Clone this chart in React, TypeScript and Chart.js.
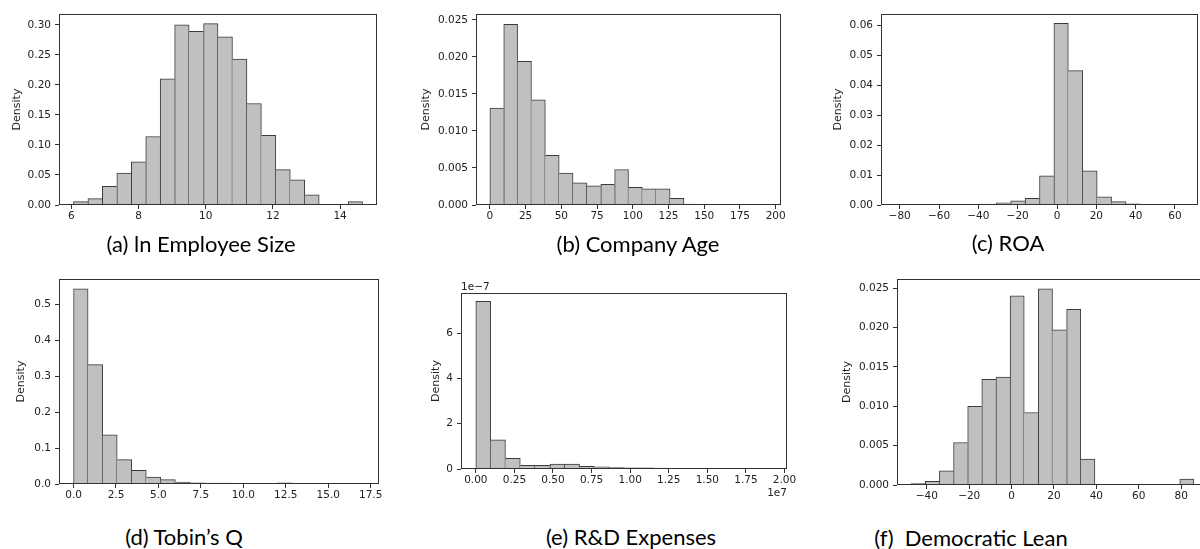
import React, { useEffect, useRef } from 'react';
import { Chart, registerables } from 'chart.js';

Chart.register(...registerables);

const BAR_FILL = '#c0c0c0';
const BAR_EDGE = '#3a3a3a';
const FRAME = '#333333';
const TEXT = '#222222';
const TICK_FONT = { family: 'DejaVu Sans', size: 10.5 };

// (a) ln Employee Size
const A_EDGES = [6.06, 6.491, 6.921, 7.352, 7.782, 8.213, 8.643, 9.074, 9.504, 9.935, 10.365, 10.796, 11.226, 11.657, 12.087, 12.518, 12.948, 13.379, 13.809, 14.24, 14.67];
const A_DENSITY = [0.0055, 0.0105, 0.031, 0.053, 0.072, 0.114, 0.21, 0.3, 0.289, 0.302, 0.28, 0.243, 0.169, 0.116, 0.059, 0.042, 0.017, 0, 0, 0.0055];
const A_XTICKS = [6, 8, 10, 12, 14];
const A_XLABELS = ['6', '8', '10', '12', '14'];
const A_YTICKS = [0, 0.05, 0.1, 0.15, 0.2, 0.25, 0.3];
const A_YLABELS = ['0.00', '0.05', '0.10', '0.15', '0.20', '0.25', '0.30'];

// (b) Company Age
const B_EDGES = [0, 9.7, 19.4, 29.1, 38.8, 48.5, 58.2, 67.9, 77.6, 87.3, 97, 106.7, 116.4, 126.1, 135.8, 145.5, 155.2, 164.9, 174.6, 184.3, 194];
const B_DENSITY = [0.0131, 0.0244, 0.0194, 0.0142, 0.0067, 0.0043, 0.003, 0.0026, 0.0028, 0.0048, 0.0024, 0.0022, 0.0022, 0.0009, 0.00013, 0.00003, 0.00001, 0, 0, 0.00001];
const B_XTICKS = [0, 25, 50, 75, 100, 125, 150, 175, 200];
const B_XLABELS = ['0', '25', '50', '75', '100', '125', '150', '175', '200'];
const B_YTICKS = [0, 0.005, 0.01, 0.015, 0.02, 0.025];
const B_YLABELS = ['0.000', '0.005', '0.010', '0.015', '0.020', '0.025'];

// (c) ROA
const C_EDGES = [-82.2, -74.87, -67.54, -60.21, -52.88, -45.55, -38.22, -30.89, -23.56, -16.23, -8.9, -1.57, 5.76, 13.09, 20.42, 27.75, 35.08, 42.41, 49.74, 57.07, 64.4];
const C_DENSITY = [0.00002, 0, 0, 0, 0.00001, 0.0002, 0.0003, 0.0007, 0.0014, 0.0022, 0.0097, 0.0606, 0.0448, 0.0114, 0.0027, 0.0011, 0.0004, 0.00005, 0.00002, 0.00002];
const C_XTICKS = [-80, -60, -40, -20, 0, 20, 40, 60];
const C_XLABELS = ['\u221280', '\u221260', '\u221240', '\u221220', '0', '20', '40', '60'];
const C_YTICKS = [0, 0.01, 0.02, 0.03, 0.04, 0.05, 0.06];
const C_YLABELS = ['0.00', '0.01', '0.02', '0.03', '0.04', '0.05', '0.06'];

// (d) Tobin's Q
const D_EDGES = [0, 0.857, 1.713, 2.57, 3.426, 4.283, 5.139, 5.996, 6.852, 7.709, 8.565, 9.422, 10.278, 11.135, 11.991, 12.848, 13.704, 14.561, 15.417, 16.274, 17.13];
const D_DENSITY = [0.544, 0.333, 0.137, 0.068, 0.038, 0.019, 0.012, 0.0056, 0.003, 0.0028, 0.0025, 0.002, 0.0008, 0.0003, 0.003, 0, 0, 0, 0, 0.0003];
const D_XTICKS = [0, 2.5, 5, 7.5, 10, 12.5, 15, 17.5];
const D_XLABELS = ['0.0', '2.5', '5.0', '7.5', '10.0', '12.5', '15.0', '17.5'];
const D_YTICKS = [0, 0.1, 0.2, 0.3, 0.4, 0.5];
const D_YLABELS = ['0.0', '0.1', '0.2', '0.3', '0.4', '0.5'];

// (e) R&D Expenses
const E_EDGES = [0, 960000, 1920000, 2880000, 3840000, 4800000, 5760000, 6720000, 7680000, 8640000, 9600000, 10560000, 11520000, 12480000, 13440000, 14400000, 15360000, 16320000, 17280000, 18240000, 19200000];
const E_DENSITY = [7.4e-7, 1.29e-7, 0.47e-7, 0.16e-7, 0.16e-7, 0.22e-7, 0.22e-7, 0.12e-7, 0.1e-7, 0.06e-7, 0.05e-7, 0.05e-7, 0.04e-7, 0, 0, 0, 0, 0, 0, 0.005e-7];
const E_XTICKS = [0, 2500000, 5000000, 7500000, 10000000, 12500000, 15000000, 17500000, 20000000];
const E_XLABELS = ['0.00', '0.25', '0.50', '0.75', '1.00', '1.25', '1.50', '1.75', '2.00'];
const E_YTICKS = [0, 2e-7, 4e-7, 6e-7];
const E_YLABELS = ['0', '2', '4', '6'];

// (f) Democratic Lean
const F_EDGES = [-47.4, -40.73, -34.06, -27.39, -20.72, -14.05, -7.38, -0.71, 5.96, 12.63, 19.3, 25.97, 32.64, 39.31, 45.98, 52.65, 59.32, 65.99, 72.66, 79.33, 86];
const F_DENSITY = [0.00017, 0.00047, 0.0018, 0.0054, 0.01, 0.0134, 0.0137, 0.024, 0.0092, 0.0249, 0.0197, 0.0223, 0.0033, 0, 0, 0, 0, 0, 0, 0.00076];
const F_XTICKS = [-40, -20, 0, 20, 40, 60, 80];
const F_XLABELS = ['\u221240', '\u221220', '0', '20', '40', '60', '80'];
const F_YTICKS = [0, 0.005, 0.01, 0.015, 0.02, 0.025];
const F_YLABELS = ['0.000', '0.005', '0.010', '0.015', '0.020', '0.025'];

type Panel = {
  edges: number[];
  density: number[];
  xTicks: number[];
  xLabels: string[];
  yTicks: number[];
  yLabels: string[];
  xMin: number;
  xMax: number;
  yMax: number;
  box: [number, number, number, number];
  titleOffset: number;
  caption: string;
  captionAt: [number, number];
  yOffsetText?: string;
  xOffsetText?: string;
};

const PANELS: Panel[] = [
  { edges: A_EDGES, density: A_DENSITY, xTicks: A_XTICKS, xLabels: A_XLABELS, yTicks: A_YTICKS, yLabels: A_YLABELS,
    xMin: 5.63, xMax: 15.1, yMax: 0.318, box: [59, 14, 377, 205], titleOffset: 42,
    caption: '(a) ln Employee Size', captionAt: [201, 244] },
  { edges: B_EDGES, density: B_DENSITY, xTicks: B_XTICKS, xLabels: B_XLABELS, yTicks: B_YTICKS, yLabels: B_YLABELS,
    xMin: -9.7, xMax: 203.7, yMax: 0.0258, box: [476, 14, 781, 205], titleOffset: 50,
    caption: '(b) Company Age', captionAt: [638, 244] },
  { edges: C_EDGES, density: C_DENSITY, xTicks: C_XTICKS, xLabels: C_XLABELS, yTicks: C_YTICKS, yLabels: C_YLABELS,
    xMin: -89.5, xMax: 71.7, yMax: 0.0637, box: [881, 14, 1198, 205], titleOffset: 43,
    caption: '(c) ROA', captionAt: [1008, 243] },
  { edges: D_EDGES, density: D_DENSITY, xTicks: D_XTICKS, xLabels: D_XLABELS, yTicks: D_YTICKS, yLabels: D_YLABELS,
    xMin: -0.857, xMax: 17.99, yMax: 0.5715, box: [59, 279, 379, 484], titleOffset: 38,
    caption: '(d) Tobin\u2019s Q', captionAt: [184, 537] },
  { edges: E_EDGES, density: E_DENSITY, xTicks: E_XTICKS, xLabels: E_XLABELS, yTicks: E_YTICKS, yLabels: E_YLABELS,
    xMin: -960000, xMax: 20160000, yMax: 7.77e-7, box: [461, 293, 787, 469], titleOffset: 25,
    caption: '(e) R&D Expenses', captionAt: [631, 537], yOffsetText: '1e\u22127', xOffsetText: '1e7' },
  { edges: F_EDGES, density: F_DENSITY, xTicks: F_XTICKS, xLabels: F_XLABELS, yTicks: F_YTICKS, yLabels: F_YLABELS,
    xMin: -54.07, xMax: 92.67, yMax: 0.02615, box: [897, 279, 1208, 485], titleOffset: 50,
    caption: '(f)  Democratic Lean', captionAt: [971, 538] },
];

const framePlugin = {
  id: 'frame',
  afterDatasetsDraw(chart: any) {
    const { ctx, chartArea } = chart;
    const l = Math.round(chartArea.left) + 0.5;
    const t = Math.round(chartArea.top) + 0.5;
    const r = Math.round(chartArea.right) - 0.5;
    const b = Math.round(chartArea.bottom) - 0.5;
    ctx.save();
    ctx.strokeStyle = FRAME;
    ctx.lineWidth = 1;
    ctx.strokeRect(l, t, r - l, b - t);
    ctx.restore();
  },
};

function Histogram({ p }: { p: Panel }) {
  const ref = useRef<HTMLCanvasElement>(null);
  const [L, T, R, B] = p.box;
  const W = p.titleOffset + 6;
  const PT = 16;
  const PR = 24;
  const H = 36;
  const cw = W + (R - L) + PR;
  const ch = PT + (B - T) + H;

  useEffect(() => {
    const data = p.density.map((d, i) => ({ x: (p.edges[i] + p.edges[i + 1]) / 2, y: d }));
    const n = p.density.length;
    // the taller of two neighbouring bars owns the shared edge, so each edge is drawn once
    const edgeWidths = (c: any) => {
      const i = c.dataIndex;
      const h = p.density[i];
      const prev = i > 0 ? p.density[i - 1] : -1;
      const next = i < n - 1 ? p.density[i + 1] : -1;
      return { top: 1, left: prev < h ? 1 : 0, right: next <= h ? 1 : 0, bottom: 0 };
    };
    const offsetPlugin = {
      id: 'offsetText',
      afterDraw(chart: any) {
        const { ctx, chartArea } = chart;
        ctx.save();
        ctx.fillStyle = TEXT;
        ctx.font = '10.5px "DejaVu Sans"';
        if (p.yOffsetText) {
          ctx.textAlign = 'left';
          ctx.textBaseline = 'alphabetic';
          ctx.fillText(p.yOffsetText, chartArea.left, chartArea.top - 3);
        }
        if (p.xOffsetText) {
          ctx.textAlign = 'right';
          ctx.textBaseline = 'top';
          ctx.fillText(p.xOffsetText, chartArea.right, chartArea.bottom + 19);
        }
        ctx.restore();
      },
    };
    const chart = new Chart(ref.current as HTMLCanvasElement, {
      type: 'bar',
      data: {
        datasets: [
          {
            data,
            backgroundColor: BAR_FILL,
            borderColor: BAR_EDGE,
            borderWidth: edgeWidths,
            borderSkipped: 'start',
            barPercentage: 1,
            categoryPercentage: 1,
          } as any,
        ],
      },
      options: {
        animation: false,
        responsive: false,
        devicePixelRatio: 1,
        layout: { padding: { left: 0, top: PT, right: PR, bottom: 0 } },
        plugins: { legend: { display: false }, tooltip: { enabled: false }, title: { display: false } },
        scales: {
          x: {
            type: 'linear',
            min: p.xMin,
            max: p.xMax,
            offset: false,
            grid: { display: true, drawOnChartArea: false, drawTicks: true, tickLength: 4, color: FRAME, offset: false, lineWidth: 1 },
            border: { display: false },
            ticks: {
              autoSkip: false,
              maxRotation: 0,
              minRotation: 0,
              padding: 1,
              color: TEXT,
              font: TICK_FONT,
              callback: (_v: any, i: number) => p.xLabels[i],
            },
            afterBuildTicks: (s: any) => {
              s.ticks = p.xTicks.map((v) => ({ value: v }));
            },
            afterFit: (s: any) => {
              s.height = H;
              s.paddingLeft = 0;
              s.paddingRight = 0;
              s.paddingTop = 0;
              s.paddingBottom = 0;
            },
          },
          y: {
            type: 'linear',
            min: 0,
            max: p.yMax,
            grid: { display: true, drawOnChartArea: false, drawTicks: true, tickLength: 4, color: FRAME, lineWidth: 1 },
            border: { display: false },
            title: { display: true, text: 'Density', color: TEXT, font: { family: 'DejaVu Sans', size: 11 }, padding: 0 },
            ticks: {
              autoSkip: false,
              padding: 4,
              color: TEXT,
              font: TICK_FONT,
              callback: (_v: any, i: number) => p.yLabels[i],
            },
            afterBuildTicks: (s: any) => {
              s.ticks = p.yTicks.map((v) => ({ value: v }));
            },
            afterFit: (s: any) => {
              s.width = W;
              s.paddingLeft = 0;
              s.paddingRight = 0;
              s.paddingTop = 0;
              s.paddingBottom = 0;
            },
          },
        },
      } as any,
      plugins: [framePlugin, offsetPlugin],
    });
    return () => chart.destroy();
  }, []);

  return (
    <canvas
      ref={ref}
      width={cw}
      height={ch}
      style={{ position: 'absolute', left: L - W, top: T - PT, width: cw, height: ch }}
    />
  );
}

export default function App() {
  return (
    <div
      style={{
        position: 'fixed',
        left: 0,
        top: 0,
        width: 1200,
        height: 549,
        overflow: 'hidden',
        background: '#ffffff',
      }}
    >
      {PANELS.map((p, i) => (
        <Histogram key={i} p={p} />
      ))}
      {PANELS.map((p, i) => (
        <div
          key={'c' + i}
          style={{
            position: 'absolute',
            left: p.captionAt[0],
            top: p.captionAt[1],
            transform: 'translate(-50%, -50%)',
            fontFamily: 'Lato, "Noto Sans", sans-serif',
            fontSize: 22,
            lineHeight: '26px',
            whiteSpace: 'pre',
            color: '#000000',
          }}
        >
          {p.caption}
        </div>
      ))}
    </div>
  );
}
